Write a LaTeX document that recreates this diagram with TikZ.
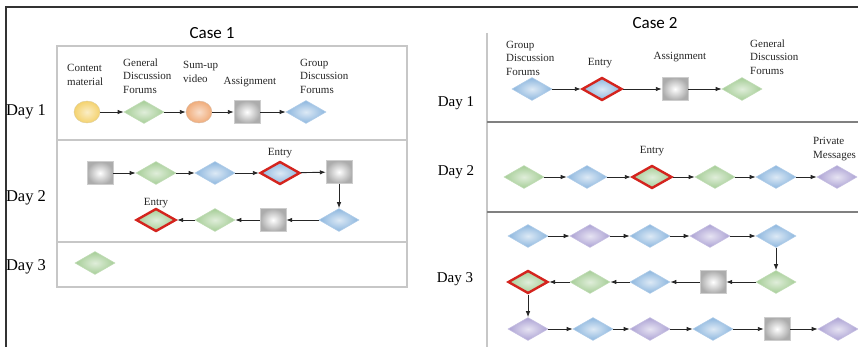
\documentclass[tikz,border=0pt]{standalone}
\usepackage{fontspec}
\setmainfont{Liberation Serif}
\newfontfamily\titlefont{Carlito}
\usetikzlibrary{shapes.geometric,arrows.meta}

\definecolor{gdfgreen}{RGB}{165,205,150}
\definecolor{gpfblue}{RGB}{140,182,222}
\definecolor{pmpurple}{RGB}{172,162,212}
\definecolor{taskgrey}{RGB}{172,172,172}
\definecolor{cmyellow}{RGB}{244,210,110}
\definecolor{sumorange}{RGB}{240,172,122}
\definecolor{entryred}{RGB}{212,36,30}

\tikzset{
  diamondbox/.style={diamond, inner sep=0pt, minimum width=40pt, minimum height=23pt, line width=0.6pt},
  gdf/.style={diamondbox, draw=gdfgreen!70!white, inner color=gdfgreen!35!white, outer color=gdfgreen},
  gpf/.style={diamondbox, draw=gpfblue!70!white, inner color=gpfblue!30!white, outer color=gpfblue},
  pm/.style={diamondbox, draw=pmpurple!70!white, inner color=pmpurple!30!white, outer color=pmpurple},
  task/.style={rectangle, inner sep=0pt, minimum width=26pt, minimum height=23pt, draw=taskgrey!60!white, inner color=white, outer color=taskgrey},
  content/.style={ellipse, inner sep=0pt, minimum width=26pt, minimum height=22pt, draw=cmyellow!80!black!60, inner color=cmyellow!40!white, outer color=cmyellow},
  sumup/.style={ellipse, inner sep=0pt, minimum width=26pt, minimum height=22pt, draw=sumorange!80!black!60, inner color=sumorange!40!white, outer color=sumorange},
  entry/.style={draw=entryred, line width=2.4pt},
  flow/.style={-{Latex[length=6pt,width=4.5pt]}, line width=0.9pt, black!85},
  lbl/.style={font=\fontsize{11}{13.5}\selectfont, text=black!85, align=left, inner sep=0pt},
  daylbl/.style={font=\fontsize{16.5}{18}\selectfont, inner sep=0pt},
  casetitle/.style={font=\titlefont\fontsize{17}{19}\selectfont, inner sep=0pt},
  panel/.style={draw=black!22, line width=1.2pt},
  split/.style={draw=black!50, line width=1.4pt}
}

\begin{document}
\begin{tikzpicture}[x=1pt,y=-1pt]
  \useasboundingbox (0,0) rectangle (858,347);

  % outer frame
  \draw[line width=2pt, black!80] (6,347) -- (6,7) -- (858,7);

  % ---- Case 1 ----
  \node[casetitle] (case1) at (212,33) {Case 1};
  \draw[panel] (57,46) rectangle (407,287);
  \draw[panel] (57,140) -- (407,140);
  \draw[panel] (57,242) -- (407,242);

  \node[daylbl] (c1day1) at (26,112) {Day 1};
  \node[daylbl] (c1day2) at (26,198) {Day 2};
  \node[daylbl] (c1day3) at (26,267) {Day 3};

  % day 1
  \node[content] (c1a) at (87,112) {};
  \node[gdf] (c1b) at (144,112) {};
  \node[sumup] (c1c) at (199,112) {};
  \node[task] (c1d) at (247,112) {};
  \node[gpf] (c1e) at (306,112) {};

  \node[lbl, anchor=west] (c1la) at (67,75) {Content\\material};
  \node[lbl, anchor=west] (c1lb) at (123,76) {General\\Discussion\\Forums};
  \node[lbl, anchor=west] (c1lc) at (183,72) {Sum-up\\video};
  \node[lbl] (c1ld) at (250,82) {Assignment};
  \node[lbl, anchor=west] (c1le) at (300,76) {Group\\Discussion\\Forums};

  \draw[flow] (c1a) -- (c1b);
  \draw[flow] (c1b) -- (c1c);
  \draw[flow] (c1c) -- (c1d);
  \draw[flow] (c1d) -- (c1e);

  % day 2
  \node[task] (c2a) at (100,173) {};
  \node[gdf] (c2b) at (156,173) {};
  \node[gpf] (c2c) at (215,173) {};
  \node[gpf, entry] (c2d) at (280,173) {};
  \node[task] (c2e) at (339,172) {};
  \node[gpf] (c2f) at (339,220) {};
  \node[task] (c2g) at (273,220) {};
  \node[gdf] (c2h) at (215,220) {};
  \node[gdf, entry] (c2i) at (156,220) {};

  \node[lbl] (c2le1) at (280,153) {Entry};
  \node[lbl] (c2le2) at (156,203) {Entry};

  \draw[flow] (c2a) -- (c2b);
  \draw[flow] (c2b) -- (c2c);
  \draw[flow] (c2c) -- (c2d);
  \draw[flow] (c2d) -- (c2e);
  \draw[flow] (c2e) -- (c2f);
  \draw[flow] (c2f) -- (c2g);
  \draw[flow] (c2g) -- (c2h);
  \draw[flow] (c2h) -- (c2i);

  % day 3
  \node[gdf] (c3a) at (95,263) {};

  % ---- Case 2 ----
  \node[casetitle] (case2) at (655,23) {Case 2};
  \draw[panel] (487,33) -- (487,347);
  \draw[split] (487,122) -- (858,122);
  \draw[split] (487,212) -- (858,212);

  \node[daylbl, font=\fontsize{15}{17}\selectfont] (d2day1) at (456,103) {Day 1};
  \node[daylbl, font=\fontsize{15}{17}\selectfont] (d2day2) at (456,172) {Day 2};
  \node[daylbl, font=\fontsize{15}{17}\selectfont] (d2day3) at (455,279) {Day 3};

  % day 1
  \node[gpf] (d1a) at (532,89) {};
  \node[gpf, entry] (d1b) at (602,89) {};
  \node[task] (d1c) at (675,89) {};
  \node[gdf] (d1d) at (742,89) {};

  \node[lbl, anchor=west] (d1la) at (506,58) {Group\\Discussion\\Forums};
  \node[lbl] (d1lb) at (600,63) {Entry};
  \node[lbl] (d1lc) at (680,57) {Assignment};
  \node[lbl, anchor=west] (d1ld) at (750,57) {General\\Discussion\\Forums};

  \draw[flow] (d1a) -- (d1b);
  \draw[flow] (d1b) -- (d1c);
  \draw[flow] (d1c) -- (d1d);

  % day 2
  \node[gdf] (d2a) at (524,177) {};
  \node[gpf] (d2b) at (587,177) {};
  \node[gdf, entry] (d2c) at (652,177) {};
  \node[gdf] (d2d) at (715,177) {};
  \node[gpf] (d2e) at (776,177) {};
  \node[pm] (d2f) at (837,177) {};

  \node[lbl] (d2lc) at (652,151) {Entry};
  \node[lbl, anchor=west] (d2lf) at (813,149) {Private\\Messages};

  \draw[flow] (d2a) -- (d2b);
  \draw[flow] (d2b) -- (d2c);
  \draw[flow] (d2c) -- (d2d);
  \draw[flow] (d2d) -- (d2e);
  \draw[flow] (d2e) -- (d2f);

  % day 3
  \node[gpf] (d3a) at (528,236) {};
  \node[pm] (d3b) at (590,236) {};
  \node[gpf] (d3c) at (650,236) {};
  \node[pm] (d3d) at (710,236) {};
  \node[gpf] (d3e) at (776,236) {};
  \node[gdf] (d3f) at (776,282) {};
  \node[task] (d3g) at (713,282) {};
  \node[gpf] (d3h) at (650,282) {};
  \node[gdf] (d3i) at (590,282) {};
  \node[gdf, entry] (d3j) at (528,282) {};
  \node[pm] (d3k) at (528,329) {};
  \node[gpf] (d3l) at (593,329) {};
  \node[pm] (d3m) at (650,329) {};
  \node[gpf] (d3n) at (713,329) {};
  \node[task] (d3o) at (777,329) {};
  \node[pm] (d3p) at (838,329) {};

  \draw[flow] (d3a) -- (d3b);
  \draw[flow] (d3b) -- (d3c);
  \draw[flow] (d3c) -- (d3d);
  \draw[flow] (d3d) -- (d3e);
  \draw[flow] (d3e) -- (d3f);
  \draw[flow] (d3f) -- (d3g);
  \draw[flow] (d3g) -- (d3h);
  \draw[flow] (d3h) -- (d3i);
  \draw[flow] (d3i) -- (d3j);
  \draw[flow] (d3j) -- (d3k);
  \draw[flow] (d3k) -- (d3l);
  \draw[flow] (d3l) -- (d3m);
  \draw[flow] (d3m) -- (d3n);
  \draw[flow] (d3n) -- (d3o);
  \draw[flow] (d3o) -- (d3p);
\end{tikzpicture}
\end{document}
